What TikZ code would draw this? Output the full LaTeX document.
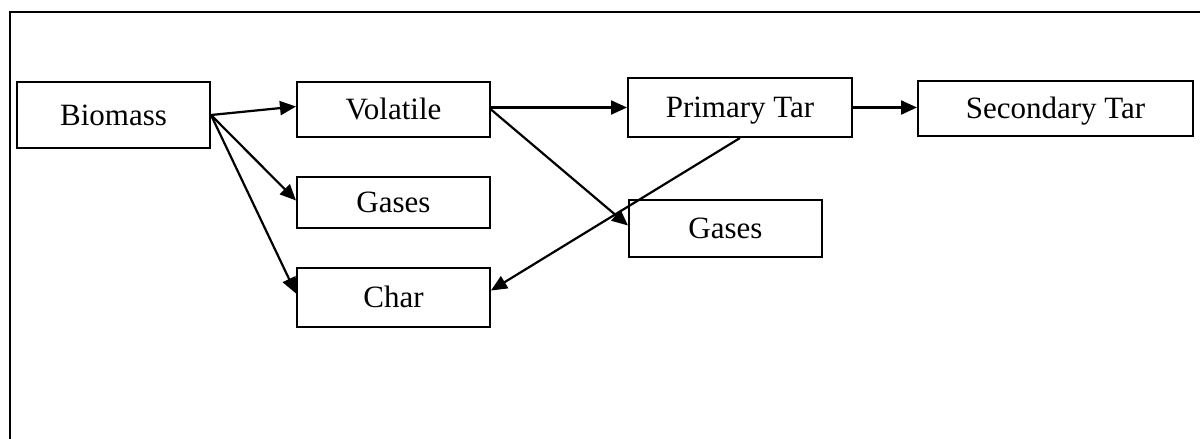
\documentclass[tikz,border=0pt]{standalone}
\usepackage{fontspec}
\setmainfont{Liberation Serif}
\usetikzlibrary{arrows.meta, positioning}

\begin{document}
\begin{tikzpicture}[
        x=0.5pt, y=-0.5pt,
        rbox/.style={
            rectangle,
            draw=black,
            line width=1pt,
            fill=white,
            minimum width=96.5pt,
            minimum height=28pt,
            inner sep=0pt,
            text height=10.3pt,
            text depth=0pt,
            font=\fontsize{15.5}{18}\selectfont
        },
        arrow/.style={
            line width=1.1pt,
            -{Triangle[length=8pt, width=7pt]}
        }
        ]

        \useasboundingbox (0,0) rectangle (1200,439);

        % outer frame
        \draw [line width=0.7pt] (10,439) -- (10,12) -- (1200,12);

        \node (bio) [rbox, minimum height=33pt] at (113.5,115) {Biomass};
        \node (vol) [rbox, minimum height=27.5pt] at (393.5,109.5) {Volatile};
        \node (gas1) [rbox, minimum height=25.5pt] at (393.5,202.5) {Gases};
        \node (char) [rbox, minimum height=29.5pt] at (393.5,297.5) {Char};
        \node (ptar) [rbox, minimum width=112pt, minimum height=29.5pt] at (740,107.5) {Primary Tar};
        \node (gas2) [rbox, minimum height=28.5pt] at (725.5,228.5) {Gases};
        \node (star) [rbox, minimum width=137.5pt, minimum height=27.5pt] at (1055.5,108.5) {Secondary Tar};

        \draw [arrow] (bio.east) -- ([yshift=1.5pt]vol.west);
        \draw [arrow] (bio.east) -- ([yshift=1pt]gas1.west);
        \draw [arrow] (bio.east) -- ([yshift=2pt]char.west);
        \draw [arrow] (vol.east |- ptar.west) -- (ptar.west);
        \draw [arrow] (vol.east) -- ([yshift=1.5pt]gas2.west);
        \draw [arrow] (ptar.south) -- ([yshift=3.5pt]char.east);
        \draw [arrow] (ptar.east) -- (ptar.east -| star.west);

    \end{tikzpicture}
\end{document}
